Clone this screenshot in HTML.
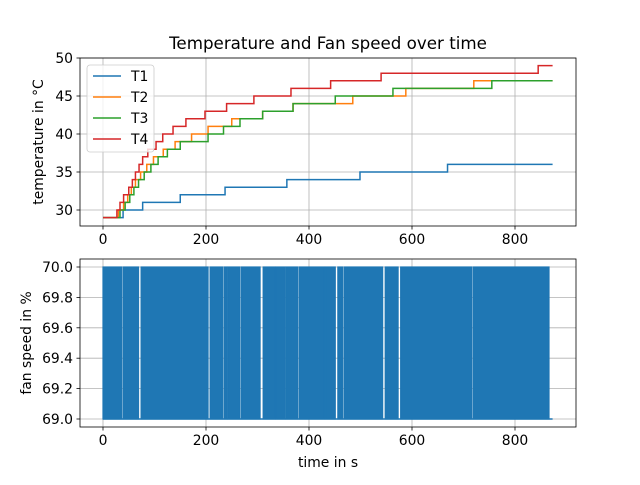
<!DOCTYPE html>
<html><head><meta charset="utf-8"><style>
body{margin:0;background:#fff;font-family:"Liberation Sans","DejaVu Sans",sans-serif;}
svg text{font-family:"DejaVu Sans","Liberation Sans",sans-serif;fill:#000;}
</style></head><body>
<svg id="c" width="640" height="480" xmlns="http://www.w3.org/2000/svg"></svg>
<script>
const series = ['T1','T2','T3','T4'];
const colors = ['#1f77b4','#ff7f0e','#2ca02c','#d62728'];
const startTemp = 29;
const endTime = 873;
const t1Steps = [39,77,150,237,357,499,669];
const t2Steps = [30,40,48,55,63,73,85,98,117,140,172,204,250,310,369,485,588,720];
const t3Steps = [33,43,52,60,69,80,93,107,125,150,204,234,266,310,369,451,563,755];
const t4Steps = [27,33,40,50,57,63,70,77,87,103,116,136,161,198,240,293,365,442,540,845];
const xTicks = [0,200,400,600,800];
const yTicksTop = [30,35,40,45,50];
const yTicksBot = [69.0,69.2,69.4,69.6,69.8,70.0];
const fanBlockStart = [0,39,74,208,235,243,269,311,336,355,381,432,456,468,548,578,719];
const fanBlockEnd   = [36,69,204,232,241,266,305,334,353,378,430,451,465,543,573,716,866];
const fanLow = 69, fanHigh = 70;

const NS='http://www.w3.org/2000/svg';
const svg=document.getElementById('c');
function el(tag,attrs,parent){const e=document.createElementNS(NS,tag);for(const k in attrs)e.setAttribute(k,attrs[k]);(parent||svg).appendChild(e);return e;}
const L=80,R=576;
const FS=13.9;
const xs=t=>103+t*0.515;
const ysTop=v=>58+(50-v)*7.6;
const ysBot=v=>419-(v-69)*152;

function axes(top,bot,yTicks,ys,fmt,name){
  const g=el('g',{});
  
  
  xTicks.forEach(t=>{const x=xs(t);el('line',{x1:x,x2:x,y1:top,y2:bot,stroke:'#b0b0b0','stroke-width':0.8},g);
    el('line',{x1:x,x2:x,y1:bot,y2:bot+3.5,stroke:'#000','stroke-width':0.8},g);
    const tx=el('text',{x:x,y:bot+18,'font-size':FS,'text-anchor':'middle'},g);tx.textContent=t;
    
    });
  yTicks.forEach(v=>{const y=ys(v);el('line',{x1:L,x2:R,y1:y,y2:y,stroke:'#b0b0b0','stroke-width':0.8},g);
    el('line',{x1:L-3.5,x2:L,y1:y,y2:y,stroke:'#000','stroke-width':0.8},g);
    const tx=el('text',{x:L-7,y:y+5,'font-size':FS,'text-anchor':'end'},g);tx.textContent=fmt(v);
    
    });
  return g;
}
axes(58,226,yTicksTop,ysTop,v=>v,'top-axes');
axes(259,427,yTicksBot,ysBot,v=>v.toFixed(1),'bottom-axes');

const allSteps=[t1Steps,t2Steps,t3Steps,t4Steps];
allSteps.forEach((steps,i)=>{
  let v=startTemp, d='M'+xs(0)+','+ysTop(v);
  steps.forEach(t=>{d+=' H'+xs(t);v+=1;d+=' V'+ysTop(v);});
  d+=' H'+xs(endTime);
  const p=el('path',{d:d,fill:'none',stroke:colors[i],'stroke-width':1.5});
  
  
});

el('line',{x1:xs(0),x2:xs(endTime),y1:ysBot(fanLow),y2:ysBot(fanLow),stroke:'#1f77b4','stroke-width':1.5});
fanBlockStart.forEach((s,i)=>{
  const e=fanBlockEnd[i];
  const r=el('rect',{x:xs(s),y:ysBot(fanHigh),width:xs(e)-xs(s),height:ysBot(fanLow)-ysBot(fanHigh),fill:'#1f77b4',stroke:'#1f77b4','stroke-width':1.2});
  
  
});

el('rect',{x:L,y:58,width:R-L,height:168,fill:'none',stroke:'#000','stroke-width':0.8});
el('rect',{x:L,y:259,width:R-L,height:168,fill:'none',stroke:'#000','stroke-width':0.8});

const title=el('text',{x:328,y:49,'font-size':16.7,'text-anchor':'middle'});title.textContent='Temperature and Fan speed over time';


const yl1=el('text',{x:0,y:0,'font-size':FS,'text-anchor':'middle',transform:'translate(43,142) rotate(-90)'});yl1.textContent='temperature in °C';


const yl2=el('text',{x:0,y:0,'font-size':FS,'text-anchor':'middle',transform:'translate(31,343) rotate(-90)'});yl2.textContent='fan speed in %';


const xl=el('text',{x:328,y:467,'font-size':FS,'text-anchor':'middle'});xl.textContent='time in s';



const lg=el('g',{});


el('rect',{x:87,y:65,width:67,height:87,rx:3,fill:'#fff','fill-opacity':0.8,stroke:'#ccc','stroke-width':0.8},lg);
series.forEach((s,i)=>{
  const y=76+i*21;
  el('line',{x1:93,x2:121,y1:y,y2:y,stroke:colors[i],'stroke-width':1.5},lg);
  const t=el('text',{x:131,y:y+5,'font-size':FS},lg);t.textContent=s;
  
  
});
</script>
</body></html>
